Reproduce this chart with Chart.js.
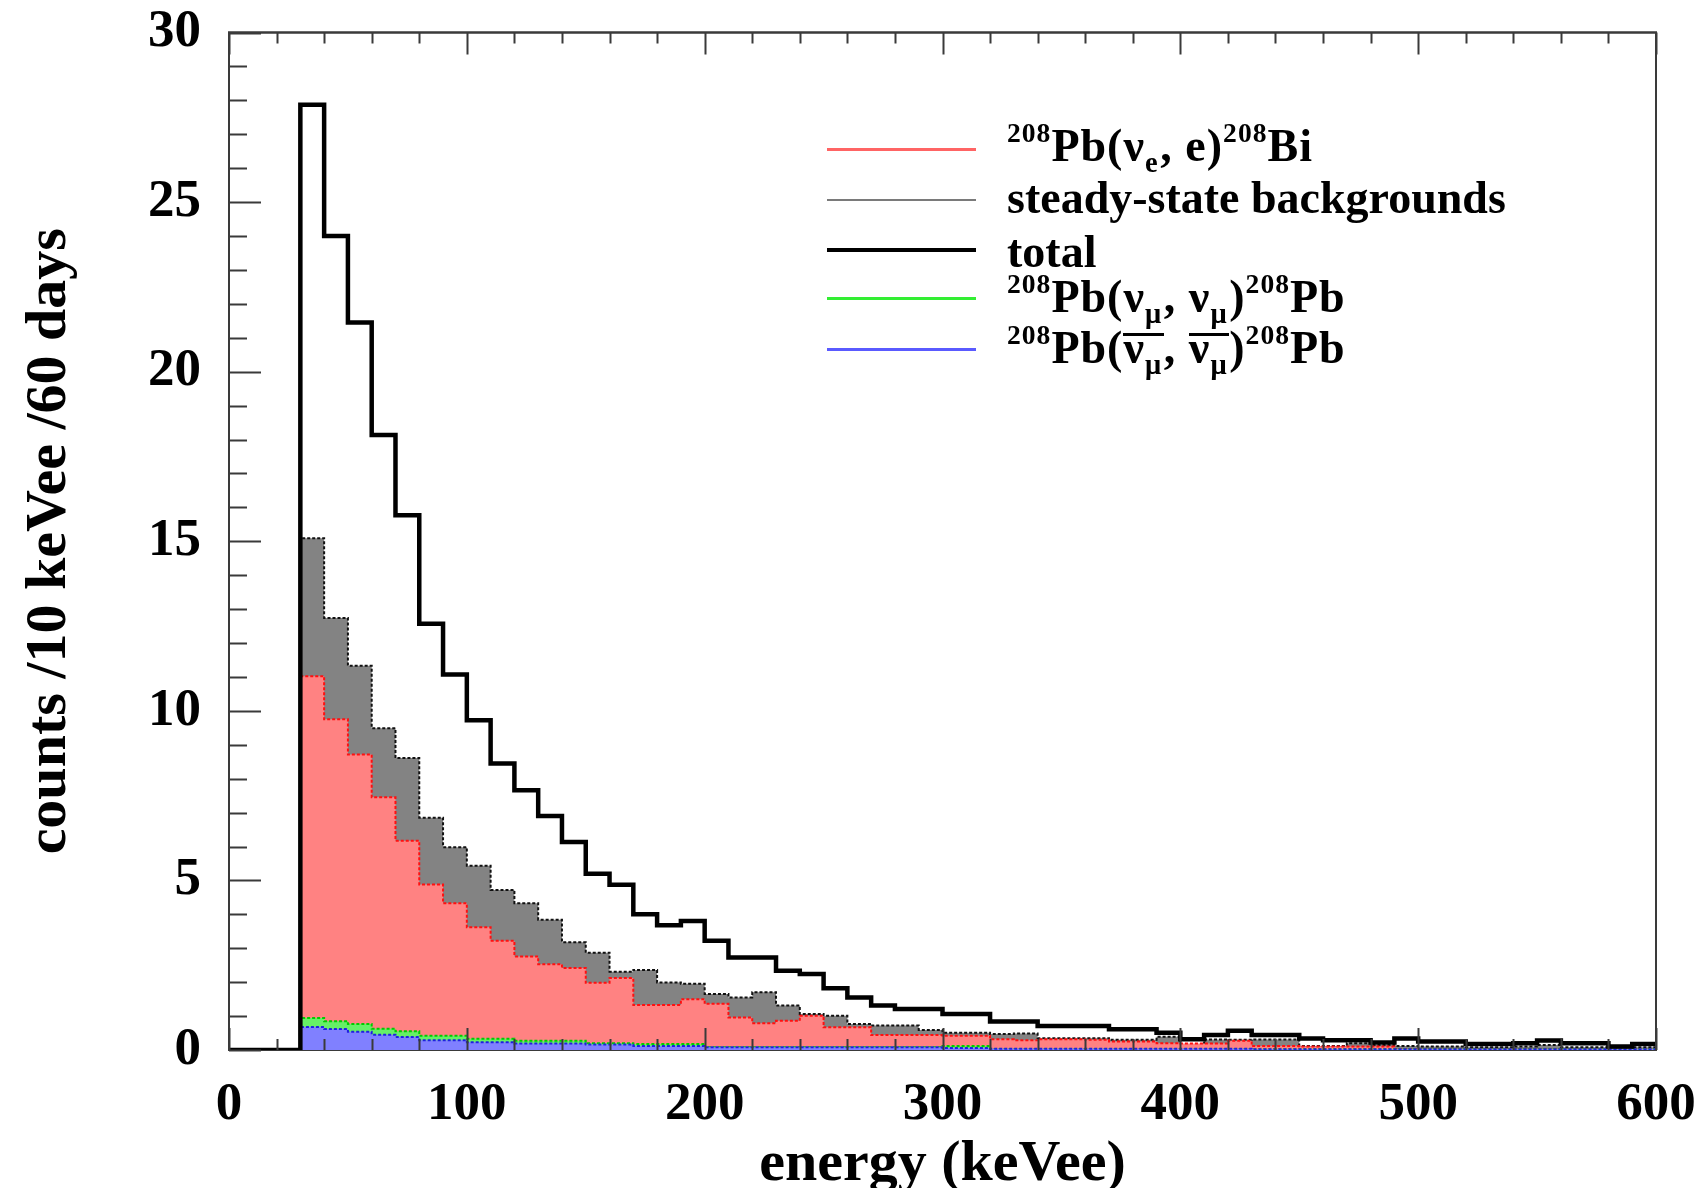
<!DOCTYPE html>
<html>
<head>
<meta charset="utf-8">
<script src="https://cdn.jsdelivr.net/npm/chart.js@4"></script>
<style>
  html, body { margin: 0; padding: 0; background: #fff; }
  #wrap { position: relative; width: 1701px; height: 1188px; }
  canvas { display: block; }
  .ln { position: absolute; left: 827px; width: 149px; height: 0; }
  .tx { position: absolute; left: 1007px; font-family: 'Liberation Serif', 'Times New Roman', serif;
        font-weight: bold; font-size: 46px; line-height: 46px; color: #000; white-space: nowrap; }
  .sp { position: relative; top: -0.7em; font-size: 0.6em; }
  .sb { position: relative; top: 0.38em; font-size: 0.62em; margin-right: 0.06em; }
  .ob { position: relative; }
  .ob::before { content: ''; position: absolute; left: 0; right: 0; top: 0.24em; border-top: 3px solid #000; }
  .wide { letter-spacing: 1px; }
</style>
</head>
<body>
<div id="wrap">
  <canvas id="c" width="1701" height="1188"></canvas>
  <div class="ln" style="top:148px;border-top:3px solid #ff6464"></div>
  <div class="ln" style="top:199px;border-top:2px solid #7a7a7a"></div>
  <div class="ln" style="top:248px;border-top:4px solid #000"></div>
  <div class="ln" style="top:297px;border-top:3px solid #33ee33"></div>
  <div class="ln" style="top:348px;border-top:3px solid #5a5aff"></div>
  <div class="tx wide" style="top:123px"><span class="sp">208</span>Pb(ν<span class="sb">e</span>, e)<span class="sp">208</span>Bi</div>
  <div class="tx" style="top:175px">steady-state backgrounds</div>
  <div class="tx" style="top:229px">total</div>
  <div class="tx wide" style="top:274px"><span class="sp">208</span>Pb(ν<span class="sb">μ</span>, ν<span class="sb">μ</span>)<span class="sp">208</span>Pb</div>
  <div class="tx wide" style="top:325px"><span class="sp">208</span>Pb(<span class="ob">ν<span class="sb">μ</span></span>, <span class="ob">ν<span class="sb">μ</span></span>)<span class="sp">208</span>Pb</div>
</div>
<script>
// Lower edges of the 10 keVee bins (keVee)
const binLow = [30,40,50,60,70,80,90,100,110,120,130,140,150,160,170,180,190,200,210,220,
  230,240,250,260,270,280,290,300,310,320,330,340,350,360,370,380,390,400,410,420,
  430,440,450,460,470,480,490,500,510,520,530,540,550,560,570,580,590];
const xMin = 0, xMax = 600, yMin = 0, yMax = 30;
const xTickLabels = [0,100,200,300,400,500,600];
const yTickLabels = [0,5,10,15,20,25,30];

// counts /10 keVee /60 days
const totalCounts = [27.87,24.0,21.45,18.13,15.77,12.57,11.07,9.72,8.45,7.66,6.9,6.13,5.2,4.87,4.0,3.68,3.8,3.22,2.73,2.73,
  2.34,2.24,1.82,1.55,1.31,1.21,1.21,1.06,1.06,0.84,0.84,0.71,0.71,0.71,0.61,0.61,0.51,0.32,0.44,0.57,
  0.44,0.44,0.34,0.29,0.29,0.22,0.34,0.25,0.25,0.18,0.18,0.2,0.28,0.2,0.2,0.1,0.18];
const steadyState = [15.09,12.74,11.33,9.49,8.61,6.85,5.98,5.43,4.72,4.33,3.84,3.18,2.87,2.31,2.36,1.99,1.95,1.65,1.55,1.7,
  1.31,1.06,1.01,0.77,0.72,0.72,0.59,0.51,0.51,0.47,0.49,0.35,0.35,0.35,0.3,0.3,0.39,0.15,0.31,0.3,
  0.31,0.31,0.12,0.12,0.2,0.15,0.12,0.1,0.1,0.08,0.08,0.1,0.15,0.08,0.08,0.05,0.08];
const pbNueBi = [11.02,9.75,8.71,7.45,6.17,4.88,4.33,3.62,3.22,2.76,2.53,2.42,1.98,2.12,1.33,1.33,1.5,1.36,0.96,0.79,
  0.86,1.01,0.67,0.67,0.44,0.44,0.44,0.42,0.42,0.32,0.29,0.32,0.32,0.3,0.25,0.25,0.2,0.19,0.19,0.27,
  0.12,0.12,0.1,0.1,0.1,0.1,0.03,0.02,0.02,0.02,0.02,0.02,0.02,0.02,0.02,0.02,0.02];
const pbNumu = [0.94,0.85,0.77,0.63,0.55,0.42,0.42,0.33,0.33,0.27,0.27,0.27,0.2,0.2,0.18,0.18,0.18,0.08,0.08,0.08,
  0.08,0.08,0.08,0.08,0.08,0.08,0.08,0.12,0.12,0.03,0.03,0.03,0.03,0.03,0.03,0.03,0.03,0.03,0.03,0.03,
  0.02,0.02,0.02,0.02,0.02,0.02,0.02,0.02,0.02,0.02,0.02,0.02,0.02,0.02,0.02,0.02,0.02];
const pbNumuBar = [0.68,0.62,0.54,0.45,0.38,0.29,0.29,0.23,0.23,0.19,0.19,0.19,0.16,0.16,0.12,0.12,0.12,0.08,0.08,0.08,
  0.08,0.08,0.08,0.08,0.08,0.08,0.08,0.06,0.06,0.04,0.04,0.04,0.04,0.04,0.04,0.04,0.04,0.04,0.04,0.04,
  0.02,0.02,0.02,0.02,0.02,0.02,0.02,0.02,0.02,0.02,0.02,0.02,0.02,0.02,0.02,0.02,0.02];

function steps(vals) {
  const pts = [{x: xMin, y: 0}];
  binLow.forEach((x, i) => pts.push({x: x, y: vals[i]}));
  pts.push({x: xMax, y: vals[vals.length - 1]});
  return pts;
}

const serifBold = (size) => ({family: "'Liberation Serif', 'Times New Roman', serif", weight: 'bold', size: size});

function noPad(s) { s.paddingTop = 0; s.paddingBottom = 0; s.paddingLeft = 0; s.paddingRight = 0; }

const frameTicks = {
  id: 'frameTicks',
  beforeDatasetsDraw(chart) {
    const {ctx, chartArea: a} = chart;
    ctx.save();
    ctx.strokeStyle = '#3a3a3a';
    ctx.lineWidth = 2;
    ctx.strokeRect(a.left, a.top, a.right - a.left, a.bottom - a.top);
    ctx.restore();
  },
  afterDatasetsDraw(chart) {
    const {ctx, chartArea: a, scales: {x, y}} = chart;
    ctx.save();
    ctx.strokeStyle = '#3a3a3a';
    ctx.lineWidth = 2;
    ctx.beginPath();
    for (let v = yMin; v <= yMax; v += 1) {
      const py = Math.round(y.getPixelForValue(v)) + 0.5;
      const len = (v % 5 === 0) ? 32 : 18;
      ctx.moveTo(a.left, py); ctx.lineTo(a.left + len, py);
    }
    for (let v = xMin; v <= xMax; v += 20) {
      const px = Math.round(x.getPixelForValue(v)) + 0.5;
      const len = (v % 100 === 0) ? 22 : 11;
      ctx.moveTo(px, a.bottom); ctx.lineTo(px, a.bottom - len);
      ctx.moveTo(px, a.top); ctx.lineTo(px, a.top + len);
    }
    ctx.stroke();
    ctx.beginPath();
    ctx.moveTo(a.left, a.bottom); ctx.lineTo(a.left, a.top); ctx.lineTo(a.right, a.top); ctx.lineTo(a.right, a.bottom);
    ctx.stroke();
    ctx.restore();
  }
};

new Chart(document.getElementById('c'), {
  type: 'line',
  data: {
    datasets: [
      { label: 'total', data: steps(totalCounts), stepped: true, borderColor: '#000', borderWidth: 4.5, fill: false },
      { label: 'Pb(anti-nu_mu, anti-nu_mu)Pb', data: steps(pbNumuBar), stepped: true, borderColor: '#2020e0', borderWidth: 2,
        borderDash: [3, 2], backgroundColor: '#8080ff', fill: 'origin' },
      { label: 'Pb(nu_mu, nu_mu)Pb', data: steps(pbNumu), stepped: true, borderColor: '#00cc00', borderWidth: 2,
        borderDash: [3, 2], backgroundColor: '#66f066', fill: 'origin' },
      { label: 'Pb(nu_e, e)Bi', data: steps(pbNueBi), stepped: true, borderColor: '#ff1010', borderWidth: 2,
        borderDash: [3, 2], backgroundColor: '#ff8282', fill: 'origin' },
      { label: 'steady-state backgrounds', data: steps(steadyState), stepped: true, borderColor: '#111', borderWidth: 2,
        borderDash: [3, 2], backgroundColor: '#838383', fill: 'origin' }
    ]
  },
  options: {
    responsive: false,
    animation: false,
    devicePixelRatio: 1,
    layout: { padding: { left: 15, right: 45, top: 32.5, bottom: 0 } },
    elements: { point: { radius: 0 }, line: { tension: 0 } },
    plugins: { legend: { display: false }, tooltip: { enabled: false } },
    scales: {
      x: {
        type: 'linear', min: xMin, max: xMax,
        afterBuildTicks: (s) => { s.ticks = xTickLabels.map(v => ({value: v})); },
        ticks: { font: serifBold(53), color: '#000', padding: 24, maxRotation: 0, autoSkip: false },
        grid: { display: false, drawTicks: false },
        border: { display: false },
        title: { display: true, text: 'energy (keVee)', font: serifBold(58), color: '#000', padding: { top: 0, bottom: -12 } },
        afterFit: (s) => { s.height = 138; noPad(s); }
      },
      y: {
        type: 'linear', min: yMin, max: yMax,
        afterBuildTicks: (s) => { s.ticks = yTickLabels.map(v => ({value: v})); },
        ticks: { font: serifBold(53), color: '#000', padding: 28, autoSkip: false },
        grid: { display: false, drawTicks: false },
        border: { display: false },
        title: { display: true, text: 'counts /10 keVee /60 days', font: serifBold(58), color: '#000', padding: { top: 0, bottom: 0 } },
        afterFit: (s) => { s.width = 214; noPad(s); }
      }
    }
  },
  plugins: [frameTicks]
});
</script>
</body>
</html>
